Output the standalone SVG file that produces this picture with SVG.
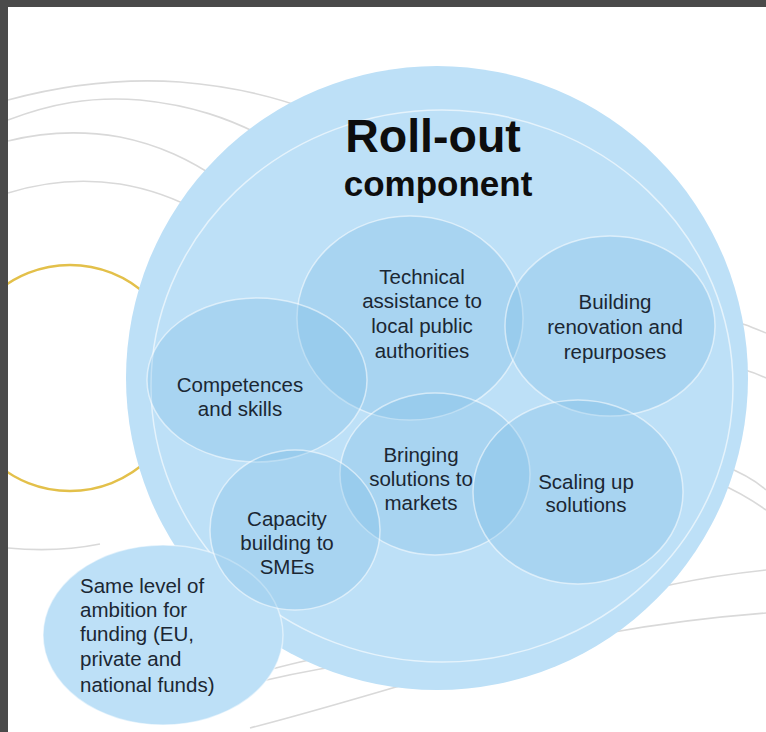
<svg xmlns="http://www.w3.org/2000/svg" width="766" height="732" viewBox="0 0 766 732">
<style>
.bg{fill:none;stroke:#d9d9d9;stroke-width:1.6}
.sub{fill:rgb(120,185,230);fill-opacity:0.3;stroke:#ffffff;stroke-opacity:0.55;stroke-width:1.5}
.lbl{font-family:"Liberation Sans",Arial,sans-serif;font-size:20.5px;fill:#1b2733;text-anchor:middle}
.lft{text-anchor:start}
.title{font-family:"Liberation Sans",Arial,sans-serif;font-weight:bold;fill:#0d0d0d;text-anchor:middle}
</style>
<rect width="766" height="732" fill="#ffffff"/>
<g id="background-lines">
<path class="bg" d="M8,100 C60,86 120,78 180,82 C230,86 270,95 310,110"/>
<path class="bg" d="M8,120 C50,104 90,96 140,100 C190,105 230,118 270,140"/>
<path class="bg" d="M8,141 C40,133 80,130 120,137 C160,145 190,160 220,180"/>
<path class="bg" d="M8,193 C40,183 80,178 120,184 C150,189 175,198 200,212"/>
<path class="bg" d="M8,548 C40,551 70,550 100,544"/>
<path class="bg" d="M740,323 C750,326 758,330 766,333"/>
<path class="bg" d="M745,370 C752,372 760,375 766,378"/>
<path class="bg" d="M722,465 C740,472 755,480 766,490"/>
<path class="bg" d="M716,482 C735,490 752,500 766,510"/>
<path class="bg" d="M600,605 C640,590 690,578 766,570"/>
<path class="bg" d="M250,728 C320,710 400,686 470,665 C560,640 650,622 766,613"/>
<path class="bg" d="M262,681 C300,672 340,665 380,660"/>
<path class="bg" d="M272,669 C295,663 315,658 335,655"/>
</g>
<g id="yellow-ring">
<circle cx="70" cy="378" r="113" fill="none" stroke="#e3c04a" stroke-width="2.5"/>
</g>
<g id="rollout">
<ellipse cx="437" cy="378" rx="311" ry="312" fill="#bde0f7"/>
<ellipse cx="442" cy="386" rx="291" ry="276" fill="none" stroke="#ffffff" stroke-opacity="0.6" stroke-width="1.5"/>
<text class="title" x="433" y="152" font-size="46.5">Roll-out</text>
<text class="title" x="438" y="196" font-size="35">component</text>
</g>
<g id="funding">
<ellipse cx="163" cy="635" rx="120" ry="90" fill="#bde0f7" stroke="#ffffff" stroke-opacity="0.5" stroke-width="1.5"/>
<text class="lbl lft" x="80" y="593">Same level of</text>
<text class="lbl lft" x="80" y="617">ambition for</text>
<text class="lbl lft" x="80" y="641">funding (EU,</text>
<text class="lbl lft" x="80" y="666">private and</text>
<text class="lbl lft" x="80" y="692">national funds)</text>
</g>
<g id="technical">
<ellipse class="sub" cx="410" cy="318" rx="113" ry="102"/>
<text class="lbl" x="422" y="284">Technical</text>
<text class="lbl" x="422" y="308">assistance to</text>
<text class="lbl" x="422" y="333">local public</text>
<text class="lbl" x="422" y="358">authorities</text>
</g>
<g id="building">
<ellipse class="sub" cx="610" cy="326" rx="105" ry="90"/>
<text class="lbl" x="615" y="309">Building</text>
<text class="lbl" x="615" y="334">renovation and</text>
<text class="lbl" x="615" y="359">repurposes</text>
</g>
<g id="competences">
<ellipse class="sub" cx="257" cy="380" rx="110" ry="82"/>
<text class="lbl" x="240" y="392">Competences</text>
<text class="lbl" x="240" y="416">and skills</text>
</g>
<g id="bringing">
<ellipse class="sub" cx="435" cy="474" rx="95" ry="81"/>
<text class="lbl" x="421" y="462">Bringing</text>
<text class="lbl" x="421" y="486">solutions to</text>
<text class="lbl" x="421" y="510">markets</text>
</g>
<g id="scaling">
<ellipse class="sub" cx="578" cy="492" rx="105" ry="92"/>
<text class="lbl" x="586" y="489">Scaling up</text>
<text class="lbl" x="586" y="512">solutions</text>
</g>
<g id="capacity">
<ellipse class="sub" cx="295" cy="530" rx="85" ry="80"/>
<text class="lbl" x="287" y="526">Capacity</text>
<text class="lbl" x="287" y="550">building to</text>
<text class="lbl" x="287" y="574">SMEs</text>
</g>
<g id="frame">
<rect x="0" y="0" width="766" height="7" fill="#4a4a4a"/>
<rect x="0" y="0" width="8" height="732" fill="#4a4a4a"/>
</g>
</svg>
